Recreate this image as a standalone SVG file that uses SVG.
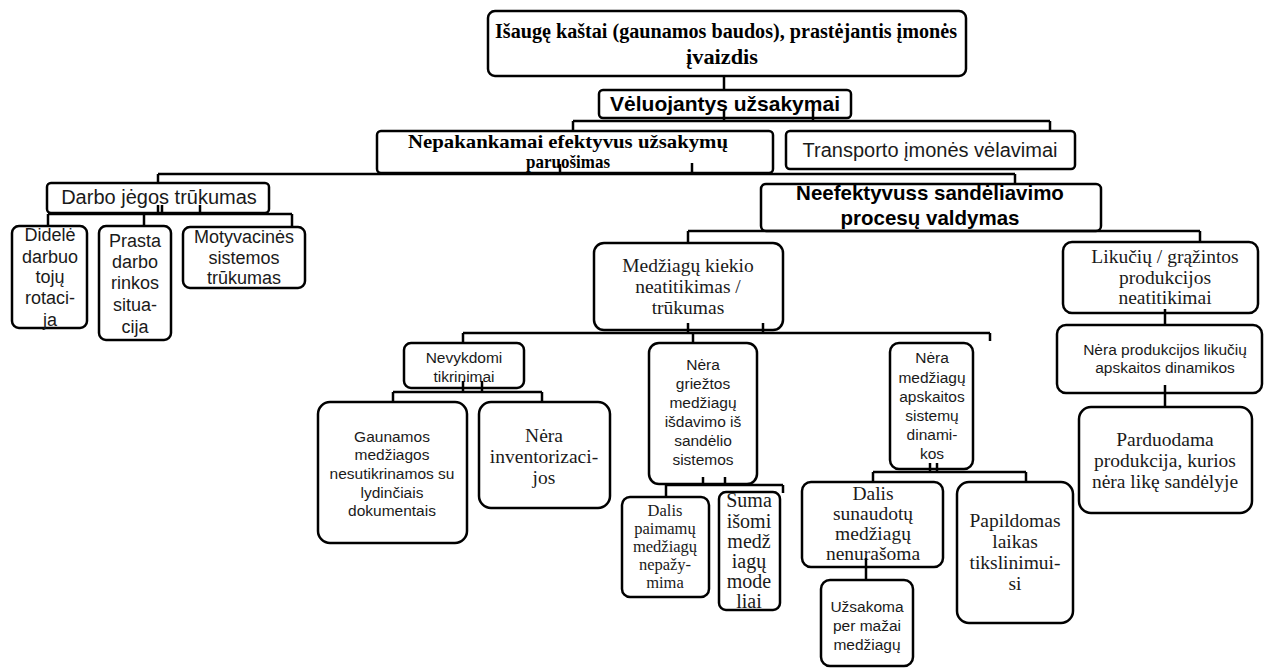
<svg xmlns="http://www.w3.org/2000/svg" width="1264" height="668" viewBox="0 0 1264 668">
<style>
.box{fill:#fff;stroke:#000;stroke-width:2.5}
.c line{stroke:#000;stroke-width:2.5}
text{fill:#1a1a1a;text-anchor:middle}
.sf{font-family:"Liberation Serif","Times New Roman",serif}
.ss{font-family:"Liberation Sans",Arial,sans-serif}
.b{font-weight:bold;fill:#000}
</style>
<rect width="1264" height="668" fill="#fff"/>
<g id="n1"><rect class="box" x="488" y="11" width="478" height="65" rx="7"/>
<text class="sf b" x="726" y="38" font-size="20" textLength="462" lengthAdjust="spacingAndGlyphs">Išaugę kaštai (gaunamos baudos), prastėjantis įmonės</text>
<text class="sf b" x="722" y="64" font-size="20" textLength="72" lengthAdjust="spacingAndGlyphs">įvaizdis</text></g>
<g id="n2"><rect class="box" x="599" y="90" width="252" height="28" rx="4"/>
<text class="ss b" x="725" y="111" font-size="21">Vėluojantys užsakymai</text></g>
<g id="n3"><rect class="box" x="377" y="131" width="396" height="42" rx="4"/>
<text class="sf b" x="568" y="148" font-size="19" textLength="320" lengthAdjust="spacingAndGlyphs">Nepakankamai efektyvus užsakymų</text>
<text class="sf b" x="568" y="168" font-size="19" textLength="84" lengthAdjust="spacingAndGlyphs">paruošimas</text></g>
<g id="n4"><rect class="box" x="786" y="131" width="289" height="38" rx="4"/>
<text class="ss" x="930" y="157" font-size="20">Transporto įmonės vėlavimai</text></g>
<g id="n5"><rect class="box" x="47" y="183" width="222" height="30" rx="4"/>
<text class="ss" x="159" y="204" font-size="20">Darbo jėgos trūkumas</text></g>
<g id="n6"><rect class="box" x="12" y="226" width="75" height="102" rx="7"/>
<text class="ss" font-size="18"><tspan x="50" y="241">Didelė</tspan><tspan x="50" y="263">darbuo</tspan><tspan x="50" y="283">tojų</tspan><tspan x="50" y="304">rotaci-</tspan><tspan x="50" y="326">ja</tspan></text></g>
<g id="n7"><rect class="box" x="99" y="226" width="72" height="114" rx="7"/>
<text class="ss" font-size="18"><tspan x="135" y="247">Prasta</tspan><tspan x="135" y="268">darbo</tspan><tspan x="135" y="289">rinkos</tspan><tspan x="135" y="311">situa-</tspan><tspan x="135" y="333">cija</tspan></text></g>
<g id="n8"><rect class="box" x="183" y="227" width="122" height="61" rx="7"/>
<text class="ss" font-size="18"><tspan x="244" y="243">Motyvacinės</tspan><tspan x="244" y="264">sistemos</tspan><tspan x="244" y="284">trūkumas</tspan></text></g>
<g id="n9"><rect class="box" x="761" y="184" width="340" height="47" rx="5"/>
<text class="ss b" font-size="20.5"><tspan x="930" y="200">Neefektyvuss sandėliavimo</tspan><tspan x="930" y="225">procesų valdymas</tspan></text></g>
<g id="n10"><rect class="box" x="594" y="243" width="189" height="87" rx="10"/>
<text class="sf" font-size="19.5"><tspan x="688" y="272">Medžiagų kiekio</tspan><tspan x="688" y="293">neatitikimas /</tspan><tspan x="688" y="314">trūkumas</tspan></text></g>
<g id="n11"><rect class="box" x="1063" y="242" width="195" height="71" rx="9"/>
<text class="sf" font-size="19.5"><tspan x="1165" y="263">Likučių / grąžintos</tspan><tspan x="1165" y="284">produkcijos</tspan><tspan x="1165" y="304">neatitikimai</tspan></text></g>
<g id="n12"><rect class="box" x="404" y="343" width="120" height="45" rx="7"/>
<text class="ss" font-size="15.5"><tspan x="464" y="363">Nevykdomi</tspan><tspan x="464" y="382">tikrinimai</tspan></text></g>
<g id="n13"><rect class="box" x="649" y="343" width="108" height="141" rx="10"/>
<text class="ss" font-size="15.5"><tspan x="703" y="370">Nėra</tspan><tspan x="703" y="389">griežtos</tspan><tspan x="703" y="408">medžiagų</tspan><tspan x="703" y="427">išdavimo iš</tspan><tspan x="703" y="446">sandėlio</tspan><tspan x="703" y="465">sistemos</tspan></text></g>
<g id="n14"><rect class="box" x="890" y="343" width="83" height="126" rx="9"/>
<text class="ss" font-size="15.5"><tspan x="932" y="363">Nėra</tspan><tspan x="932" y="383">medžiagų</tspan><tspan x="932" y="402">apskaitos</tspan><tspan x="932" y="421">sistemų</tspan><tspan x="932" y="440">dinami-</tspan><tspan x="932" y="459">kos</tspan></text></g>
<g id="n15"><rect class="box" x="1057" y="325" width="205" height="68" rx="9"/>
<text class="ss" font-size="15.5"><tspan x="1165" y="355">Nėra produkcijos likučių</tspan><tspan x="1165" y="373">apskaitos dinamikos</tspan></text></g>
<g id="n16"><rect class="box" x="318" y="402" width="149" height="141" rx="12"/>
<text class="ss" font-size="15.5"><tspan x="392" y="442">Gaunamos</tspan><tspan x="392" y="460">medžiagos</tspan><tspan x="392" y="479">nesutikrinamos su</tspan><tspan x="392" y="498">lydinčiais</tspan><tspan x="392" y="516">dokumentais</tspan></text></g>
<g id="n17"><rect class="box" x="479" y="402" width="131" height="106" rx="12"/>
<text class="sf" font-size="19.5"><tspan x="544" y="442">Nėra</tspan><tspan x="544" y="463">inventorizaci-</tspan><tspan x="544" y="484">jos</tspan></text></g>
<g id="n18"><rect class="box" x="1079" y="407" width="173" height="106" rx="12"/>
<text class="sf" font-size="19.5"><tspan x="1165" y="446">Parduodama</tspan><tspan x="1165" y="467">produkcija, kurios</tspan><tspan x="1165" y="488">nėra likę sandėlyje</tspan></text></g>
<g id="n19"><rect class="box" x="622" y="497" width="87" height="100" rx="8"/>
<text class="sf" font-size="16.5"><tspan x="665" y="516">Dalis</tspan><tspan x="665" y="534">paimamų</tspan><tspan x="665" y="552">medžiagų</tspan><tspan x="665" y="570">nepažy-</tspan><tspan x="665" y="588">mima</tspan></text></g>
<g id="n20"><rect class="box" x="719" y="492" width="61" height="118" rx="7"/>
<text class="sf" font-size="20"><tspan x="749" y="507">Suma</tspan><tspan x="749" y="528">išomi</tspan><tspan x="749" y="548">medž</tspan><tspan x="749" y="568">iagų</tspan><tspan x="749" y="588">mode</tspan><tspan x="749" y="608">liai</tspan></text></g>
<g id="n21"><rect class="box" x="802" y="482" width="141" height="85" rx="9"/>
<text class="sf" font-size="19.5"><tspan x="873" y="500">Dalis</tspan><tspan x="873" y="520">sunaudotų</tspan><tspan x="873" y="540">medžiagų</tspan><tspan x="873" y="560">nenurašoma</tspan></text></g>
<g id="n22"><rect class="box" x="957" y="482" width="116" height="141" rx="12"/>
<text class="sf" font-size="19.5"><tspan x="1015" y="527">Papildomas</tspan><tspan x="1015" y="548">laikas</tspan><tspan x="1015" y="569">tikslinimui-</tspan><tspan x="1015" y="590">si</tspan></text></g>
<g id="n23"><rect class="box" x="821" y="580" width="92" height="86" rx="9"/>
<text class="ss" font-size="15.5"><tspan x="867" y="612">Užsakoma</tspan><tspan x="867" y="631">per mažai</tspan><tspan x="867" y="650">medžiagų</tspan></text></g>
<g id="connectors" class="c">
<line x1="724" y1="76" x2="724" y2="90"/>
<line x1="724" y1="110" x2="724" y2="121"/>
<line x1="813" y1="110" x2="813" y2="121"/>
<line x1="573" y1="121" x2="1050" y2="121"/>
<line x1="573" y1="121" x2="573" y2="131"/>
<line x1="1050" y1="121" x2="1050" y2="131"/>
<line x1="560" y1="164" x2="560" y2="174"/>
<line x1="692" y1="163" x2="692" y2="174"/>
<line x1="158" y1="174" x2="1015" y2="174"/>
<line x1="158" y1="174" x2="158" y2="183"/>
<line x1="1015" y1="174" x2="1015" y2="184"/>
<line x1="158" y1="205" x2="158" y2="214"/>
<line x1="162" y1="205" x2="162" y2="214"/>
<line x1="200" y1="205" x2="200" y2="214"/>
<line x1="48" y1="214" x2="292" y2="214"/>
<line x1="48" y1="214" x2="48" y2="226"/>
<line x1="144" y1="214" x2="144" y2="226"/>
<line x1="292" y1="214" x2="292" y2="227"/>
<line x1="688" y1="231" x2="1200" y2="231"/>
<line x1="688" y1="231" x2="688" y2="243"/>
<line x1="1200" y1="231" x2="1200" y2="242"/>
<line x1="688" y1="323" x2="688" y2="333"/>
<line x1="763" y1="323" x2="763" y2="333"/>
<line x1="463" y1="333" x2="990" y2="333"/>
<line x1="463" y1="333" x2="463" y2="343"/>
<line x1="693" y1="333" x2="693" y2="343"/>
<line x1="990" y1="333" x2="990" y2="341"/>
<line x1="463" y1="381" x2="463" y2="392"/>
<line x1="482" y1="381" x2="482" y2="392"/>
<line x1="393" y1="392" x2="542" y2="392"/>
<line x1="393" y1="392" x2="393" y2="402"/>
<line x1="542" y1="392" x2="542" y2="402"/>
<line x1="703" y1="477" x2="703" y2="485"/>
<line x1="725" y1="477" x2="725" y2="485"/>
<line x1="666" y1="485" x2="783" y2="485"/>
<line x1="666" y1="485" x2="666" y2="497"/>
<line x1="783" y1="485" x2="783" y2="493"/>
<line x1="930" y1="463" x2="930" y2="472"/>
<line x1="937" y1="463" x2="937" y2="472"/>
<line x1="873" y1="472" x2="1026" y2="472"/>
<line x1="873" y1="472" x2="873" y2="482"/>
<line x1="1026" y1="472" x2="1026" y2="482"/>
<line x1="866" y1="558" x2="866" y2="580"/>
<line x1="1165" y1="309" x2="1165" y2="325"/>
<line x1="1165" y1="385" x2="1165" y2="407"/>
</g>
</svg>
